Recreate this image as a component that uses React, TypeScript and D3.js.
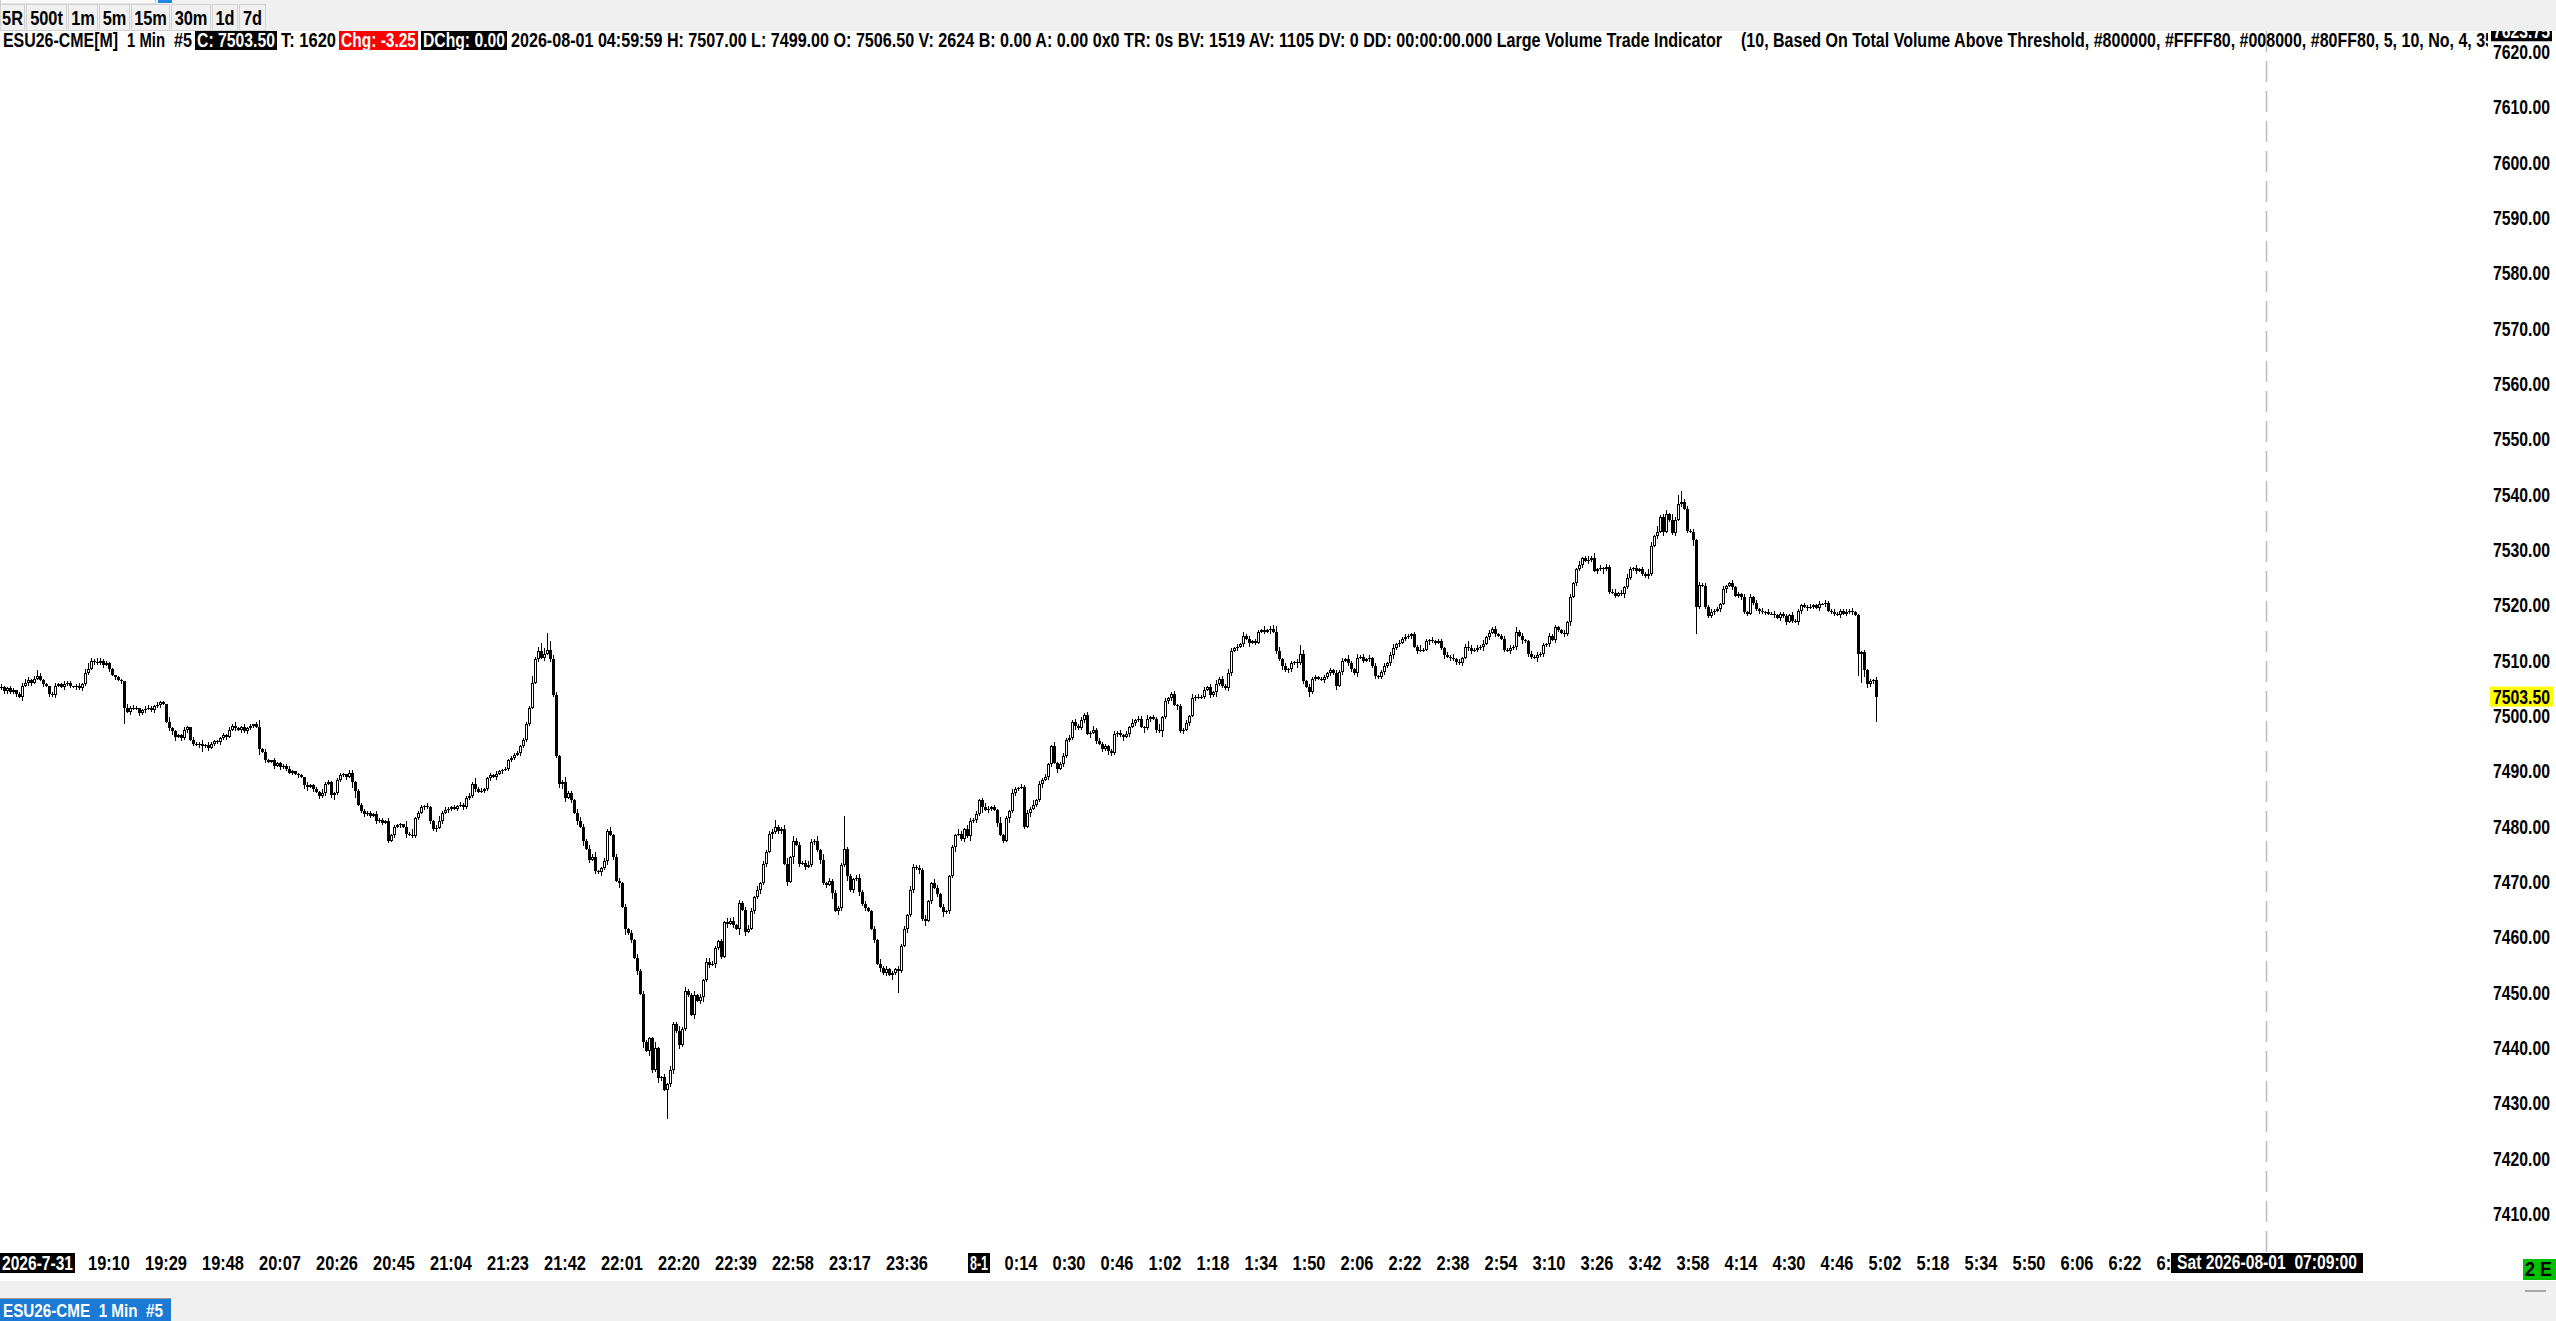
import React from "react";
import * as d3 from "d3";

const WIDTH = 2556;
const HEIGHT = 1321;
const FONT = "'Liberation Sans Narrow', 'Arial Narrow', 'Liberation Sans', Arial, sans-serif";

// 1 min bars, minutes counted from 2026-08-01 00:00 (first visible bar = 18:34 on 7-31)
const FIRST_BAR_MIN = -326;
const CURSOR_MIN = 429; // 07:09 cursor line
const TICK = 0.25;
const FIRST_OPEN = 7505.0;
const LAST_PRICE = 7503.5;
const TOP_PRICE_LABEL = 7623.75;

const CLOSES: number[] = [
  7505.25, 7504.5, 7505, 7504.25, 7504.75, 7504, 7503.5, 7505.5, 7506, 7506.5,
  7506, 7506.75, 7507.25, 7506.5, 7505.75, 7505.5, 7504, 7503.75, 7505.5, 7505.75,
  7505.25, 7505.75, 7506, 7505.5, 7505.25, 7505.5, 7505, 7505.75, 7507.75, 7508.5,
  7510, 7509.75, 7509.5, 7510, 7509.25, 7509.5, 7508.5, 7507.5, 7507, 7506.5,
  7506.25, 7501.5, 7500.75, 7501.5, 7501.25, 7501.5, 7500.5, 7501, 7501.25, 7501.5,
  7501, 7501.75, 7502, 7502.5, 7502.25, 7499, 7497.75, 7497.25, 7496.25, 7496.5,
  7496, 7497.5, 7498, 7495.75, 7495, 7494.75, 7495, 7494.5, 7494.75, 7494.25,
  7495, 7495.5, 7495.25, 7496, 7496.5, 7496.25, 7497.5, 7498.25, 7497.75, 7497.5,
  7498, 7497.25, 7497.75, 7498.25, 7498.5, 7498, 7494, 7493.5, 7492, 7491.75,
  7492, 7491, 7491.5, 7490.75, 7491, 7490.5, 7489.75, 7490, 7489.5, 7489.25,
  7489, 7487.5, 7487.25, 7487.5, 7486.75, 7486.25, 7485.5, 7486, 7487.75, 7488,
  7485.75, 7486, 7488.5, 7489.25, 7489.5, 7489, 7489.75, 7488, 7486.5, 7484,
  7482.75, 7482.25, 7482.5, 7482, 7482.25, 7481, 7481.25, 7480.75, 7481, 7477.5,
  7478.5, 7480, 7480.25, 7480.5, 7480, 7478.75, 7478.5, 7478.25, 7481.5, 7482.5,
  7483.5, 7483.75, 7483.5, 7481, 7479.5, 7479.75, 7481, 7482.5, 7483, 7483.25,
  7483.5, 7483.25, 7483.75, 7484, 7483.5, 7485.25, 7485.5, 7487.75, 7486.75, 7486.25,
  7486.5, 7486.75, 7488.75, 7489.25, 7489, 7489.5, 7490, 7490.25, 7490.5, 7492,
  7492.5, 7493, 7493.25, 7494.5, 7495.75, 7498.5, 7501.5, 7506, 7510.25, 7511.75,
  7510.5, 7511.25, 7512, 7510.25, 7503.75, 7492.75, 7487.75, 7488, 7485.25, 7486,
  7484.75, 7482.5, 7481, 7480, 7477.5, 7476, 7474, 7474.5, 7472, 7471.75,
  7472.5, 7473.75, 7479.25, 7478.5, 7474.5, 7470.25, 7469.75, 7465.5, 7461.5, 7460.75,
  7459.5, 7456.25, 7454, 7449.75, 7441, 7439.5, 7441.75, 7436, 7440, 7434.5,
  7434.75, 7432.5, 7433.5, 7436, 7444.25, 7443, 7440.5, 7443.5, 7450.25, 7449.5,
  7446, 7449.5, 7448.5, 7449.25, 7452.25, 7455.5, 7455, 7455.25, 7458, 7459.25,
  7456.5, 7462.75, 7462.5, 7463, 7462.25, 7461.5, 7466.25, 7465, 7461, 7461.5,
  7464.75, 7467.25, 7468.5, 7469.75, 7473.25, 7475.5, 7478.75, 7479, 7480, 7479.25,
  7479.5, 7473.25, 7470, 7474.5, 7477.5, 7476.75, 7473.25, 7473.5, 7472.75, 7473,
  7477.25, 7477.5, 7475.75, 7474, 7469.75, 7469.5, 7470.25, 7468, 7464.75, 7465.25,
  7473, 7476, 7471, 7468.5, 7470.5, 7470.75, 7468.25, 7466, 7465.25, 7464.75,
  7461.5, 7459.5, 7455.25, 7454.5, 7453.5, 7454.25, 7453.25, 7453.5, 7454.25, 7454,
  7458.5, 7461.5, 7464, 7468.5, 7472.75, 7472.5, 7472.25, 7463.25, 7463, 7466.5,
  7469.75, 7469, 7467.75, 7465.5, 7464.5, 7464.75, 7471, 7476.25, 7478.5, 7478.75,
  7477.75, 7479.5, 7478.25, 7481, 7481.25, 7482.25, 7484.75, 7483.5, 7483, 7483.25,
  7483.5, 7483, 7480.75, 7478.5, 7477.5, 7481.5, 7482.75, 7486, 7486.75, 7487,
  7487.25, 7480, 7482.5, 7483.25, 7484, 7484.75, 7487.75, 7488.5, 7489, 7491.25,
  7494.5, 7491.5, 7490.5, 7491.25, 7492.75, 7495.75, 7496, 7499, 7498.25, 7497.75,
  7499.25, 7500.25, 7496.75, 7497, 7497.5, 7495.5, 7495, 7494, 7494.5, 7493.75,
  7493.25, 7496.75, 7497, 7496.5, 7496.25, 7496.75, 7498, 7498.75, 7499.25, 7499.5,
  7498, 7497.75, 7499.5, 7499.75, 7499.5, 7497.5, 7497.25, 7499.75, 7502.75, 7503.25,
  7504, 7502, 7501.75, 7497.25, 7497.5, 7498.75, 7500, 7503.25, 7503.5, 7503.25,
  7503.5, 7504.75, 7505.25, 7503.75, 7504.25, 7505.75, 7506.75, 7505.5, 7505, 7507.75,
  7511.75, 7512.25, 7512.5, 7513, 7514.5, 7514, 7513.25, 7513.5, 7513.25, 7515.25,
  7515.5, 7515.25, 7515.5, 7515.75, 7515.25, 7511.75, 7510.25, 7509, 7508.25, 7508.5,
  7509.5, 7509.75, 7509.5, 7511.25, 7506.25, 7505.25, 7504.25, 7506.75, 7507, 7506.75,
  7506.5, 7507, 7507.75, 7508.25, 7507.75, 7505.5, 7508, 7510, 7510.25, 7509.5,
  7508.5, 7507.75, 7510.5, 7510.75, 7510, 7510.25, 7510.5, 7509, 7507.25, 7507,
  7508, 7509, 7509.5, 7511, 7512.25, 7513, 7513.25, 7514, 7514.25, 7514.5,
  7514.75, 7512.5, 7511.75, 7512, 7512, 7513.5, 7513.75, 7513.5, 7513.25, 7513.5,
  7512.25, 7511, 7510.75, 7510.5, 7510.25, 7509.75, 7509.5, 7510.5, 7512.5, 7512.25,
  7511.75, 7512, 7512.25, 7512.5, 7513, 7514.25, 7515, 7515.75, 7514.75, 7514.5,
  7514, 7512, 7511.75, 7512.25, 7512.5, 7515.25, 7514.5, 7513.75, 7513.5, 7511.25,
  7510.75, 7510.5, 7511, 7511.25, 7512.75, 7513, 7514.5, 7513.75, 7516, 7515.5,
  7515, 7514.75, 7517, 7521.5, 7524, 7526.5, 7527.25, 7528.5, 7528, 7528.25,
  7528.5, 7526.25, 7526.5, 7526.75, 7526.5, 7527, 7522.5, 7522.25, 7521.75, 7522.25,
  7522, 7523.25, 7525, 7526.5, 7526.75, 7526.25, 7526.5, 7525.75, 7525.25, 7525.75,
  7530.75, 7532.5, 7533.25, 7536, 7533.25, 7536.5, 7535.5, 7533, 7535.5, 7538.25,
  7538.75, 7537.5, 7533.5, 7533.25, 7531.75, 7519.75, 7523.75, 7523.5, 7519.75, 7518,
  7518.75, 7519, 7519.25, 7520.25, 7523, 7523.5, 7524, 7523.25, 7521.75, 7522,
  7521.5, 7518.75, 7518.5, 7521.5, 7520.5, 7519.25, 7519, 7518.75, 7518.75, 7518.5,
  7518.5, 7518.25, 7517.75, 7518.5, 7518, 7517, 7518.25, 7517.25, 7517, 7519,
  7520, 7519.75, 7519.5, 7519.75, 7520, 7519.5, 7520.25, 7520.25, 7520.5, 7519,
  7518.75, 7518.5, 7518.25, 7519, 7518.5, 7518.75, 7519, 7518.75, 7518.25, 7511.25,
  7511.5, 7508.25, 7505.75, 7506.25, 7506.5, 7503.5,
];

// wick lengths in ticks (base 36 digit per bar), 10 bars per chunk
const WICK_UP = [
  "2112101232", "1242110121", "1211012134", "2132121101", "1031210122", "1121103111", "1210211312", "1111212131",
  "1211025121", "0211112101", "1021121312", "1112102211", "1211121112", "1111041411", "2121124121", "1212112142",
  "2112121111", "1121121523", "64c6321242", "2133213241", "1213122121", "2131221141", "1213224132", "2312133221",
  "2132312123", "2131212251", "2341322123", "2131412122", "2o12123121", "1213121212", "1213212131", "1321211213",
  "2132121232", "1214121321", "2121312121", "1312212121", "2121312121", "1212121312", "2131214121", "1212121312",
  "1212131213", "2121312121", "1312343121", "2126312121", "1212121213", "2131212121", "1212312121", "1213121212",
  "2121312124", "2121312121", "1212131211", "2121212121", "1212113123", "2412121231", "2132121213", "3141231427",
  "8221212121", "2121211212", "1212121212", "1211121211", "1212112121", "1211121211", "121212",
];
const WICK_DN = [
  "1221121312", "2111212121", "1212121211", "1211212121", "2c12112121", "1212112331", "2121212412", "1212121121",
  "2121214121", "1212121212", "1331212121", "2412121451", "1212121212", "1212131111", "1212121212", "2121212121",
  "1212121212", "1212121112", "1212113431", "2131412121", "3131213141", "2131414213", "21l2313121", "1312412131",
  "2131214131", "1213121412", "2131512121", "1213121413", "2131213121", "121312141g", "2131213141", "2121312131",
  "1213121412", "2131213121", "1213121312", "2131212131", "1213121213", "2121312121", "1312121412", "2131212121",
  "1212131212", "2121213121", "1213121312", "2131213121", "1212131212", "2131212121", "1212312121", "2121213121",
  "1312121212", "2121312121", "1212121312", "2131212121", "1213121212", "2121312121", "1312121212", "2121312121",
  "21214k2121", "1212131212", "2121212121", "1212121212", "2121212121", "121212121g", "l5322i",
];

const EVENING_LABELS = ["19:10", "19:29", "19:48", "20:07", "20:26", "20:45", "21:04", "21:23", "21:42", "22:01", "22:20", "22:39", "22:58", "23:17", "23:36"];
const MORNING_LABELS = ["0:14", "0:30", "0:46", "1:02", "1:18", "1:34", "1:50", "2:06", "2:22", "2:38", "2:54", "3:10", "3:26", "3:42", "3:58", "4:14", "4:30", "4:46", "5:02", "5:18", "5:34", "5:50", "6:06", "6:22", "6:38"];

const TOOLBAR = ["5R", "500t", "1m", "5m", "15m", "30m", "1d", "7d"];
const TOOLBAR_W = [25, 41, 30, 31, 39, 40, 26, 27];

const HEADER = [
  { text: "ESU26-CME[M]", x: 3, w: 115 },
  { text: "1 Min", x: 127, w: 38 },
  { text: "#5", x: 174, w: 18 },
  { text: "C: 7503.50", x: 197, w: 78, box: "#000000", color: "#ffffff" },
  { text: "T: 1620", x: 281, w: 55 },
  { text: "Chg: -3.25", x: 341, w: 75, box: "#ff0000", color: "#ffffff" },
  { text: "DChg: 0.00", x: 423, w: 82, box: "#000000", color: "#ffffff" },
  { text: "2026-08-01 04:59:59 H: 7507.00 L: 7499.00 O: 7506.50 V: 2624 B: 0.00 A: 0.00 0x0 TR: 0s BV: 1519 AV: 1105 DV: 0 DD: 00:00:00.000 Large Volume Trade Indicator", x: 511, w: 1211 },
  { text: "(10, Based On Total Volume Above Threshold, #800000, #FFFF80, #008000, #80FF80, 5, 10, No, 4, 35", x: 1741, w: 753 },
];

// approximate Arial Bold advance widths (em), narrowed
const CW: Record<string, number> = { ":": 0.333, ".": 0.278, "-": 0.333, " ": 0.278, S: 0.667, a: 0.556, t: 0.333, E: 0.667, R: 0.722, m: 0.889, d: 0.611 };
function textW(s: string, size: number) {
  let w = 0;
  for (const ch of s) w += CW[ch] ?? 0.556;
  return w * size * 0.82;
}

function toMinutes(label: string, evening: boolean) {
  const [h, m] = label.split(":").map(Number);
  return h * 60 + m - (evening ? 1440 : 0);
}

export default function App() {
  const x = d3.scaleLinear().domain([FIRST_BAR_MIN, CURSOR_MIN]).range([1, 2266]);
  const y = d3.scaleLinear().domain([7410, 7620]).range([1214, 52]);

  const up = WICK_UP.join("");
  const dn = WICK_DN.join("");
  const bars = CLOSES.map((c, i) => {
    const o = i === 0 ? FIRST_OPEN : CLOSES[i - 1];
    const hi = Math.max(o, c) + parseInt(up[i], 36) * TICK;
    const lo = Math.min(o, c) - parseInt(dn[i], 36) * TICK;
    return { m: FIRST_BAR_MIN + i, o, h: hi, l: lo, c };
  });

  const timeLabels = [
    ...EVENING_LABELS.map((s) => ({ s, m: toMinutes(s, true) })),
    ...MORNING_LABELS.map((s) => ({ s, m: toMinutes(s, false) })),
  ];
  const priceTicks = y.ticks(20);
  const cursorX = Math.round(x(CURSOR_MIN));
  const midnightX = Math.round(x(0));
  const axisRight = 2550;

  const axisBaseline = 1270;
  let bx = 0;
  const buttons = TOOLBAR.map((t, i) => {
    const b = { t, x: bx, w: TOOLBAR_W[i] };
    bx += TOOLBAR_W[i] + 1;
    return b;
  });

  return (
    <svg
      width={WIDTH}
      height={HEIGHT}
      style={{ position: "fixed", left: 0, top: 0, display: "block" }}
      fontFamily={FONT}
      fontWeight="bold"
    >
      <defs>
        <clipPath id="hdrclip">
          <rect x={0} y={0} width={2488} height={60} />
        </clipPath>
      </defs>
      <rect x={0} y={0} width={WIDTH} height={HEIGHT} fill="#ffffff" />

      {/* candles */}
      <g shapeRendering="crispEdges">
        {bars.map((b, i) => {
          const cx = Math.round(x(b.m));
          const top = Math.round(y(Math.max(b.o, b.c)));
          const bot = Math.round(y(Math.min(b.o, b.c)));
          const isUp = b.c > b.o;
          return (
            <g key={i}>
              <line x1={cx + 0.5} x2={cx + 0.5} y1={y(b.h)} y2={y(b.l)} stroke="#000" strokeWidth={1} />
              {b.c === b.o ? (
                <rect x={cx - 1} y={top} width={3} height={1} fill="#000" />
              ) : isUp ? (
                <rect x={cx - 0.5} y={top + 0.5} width={2} height={Math.max(bot - top - 1, 0.01)} fill="#fff" stroke="#000" strokeWidth={1} />
              ) : (
                <rect x={cx - 1} y={top} width={3} height={Math.max(bot - top, 1)} fill="#000" />
              )}
            </g>
          );
        })}
      </g>

      {/* cursor line */}
      <line x1={cursorX + 0.5} x2={cursorX + 0.5} y1={31} y2={1253} stroke="#bdbdbd" strokeWidth={1.5} strokeDasharray="21 9" />

      {/* price axis */}
      {priceTicks.map((v) => {
        const s = v.toFixed(2);
        return (
          <text key={v} x={axisRight} y={y(v) + 7} fontSize={20} textAnchor="end" fill="#000" textLength={57} lengthAdjust="spacingAndGlyphs">
            {s}
          </text>
        );
      })}
      <rect x={2490} y={y(LAST_PRICE) - 10} width={63} height={20} fill="#ffff00" />
      <text x={axisRight} y={y(LAST_PRICE) + 7} fontSize={20} textAnchor="end" fill="#000" textLength={57} lengthAdjust="spacingAndGlyphs">
        {LAST_PRICE.toFixed(2)}
      </text>
      <rect x={2491} y={y(TOP_PRICE_LABEL) - 10} width={61} height={20} fill="#000" />
      <text x={axisRight} y={y(TOP_PRICE_LABEL) + 7} fontSize={20} textAnchor="end" fill="#fff" textLength={57} lengthAdjust="spacingAndGlyphs">
        {TOP_PRICE_LABEL.toFixed(2)}
      </text>

      {/* time axis */}
      {timeLabels.map((d) => {
        const w = textW(d.s, 20);
        return (
          <text key={d.s} x={x(d.m)} y={axisBaseline} fontSize={20} textAnchor="middle" fill="#000" textLength={w} lengthAdjust="spacingAndGlyphs">
            {d.s}
          </text>
        );
      })}
      <rect x={0} y={1253} width={75} height={20} fill="#000" />
      <text x={2} y={axisBaseline} fontSize={20} fill="#fff" textLength={71} lengthAdjust="spacingAndGlyphs">2026-7-31</text>
      <rect x={midnightX - 11} y={1253} width={22} height={20} fill="#000" />
      <text x={midnightX} y={axisBaseline} fontSize={20} fill="#fff" textAnchor="middle" textLength={18} lengthAdjust="spacingAndGlyphs">8-1</text>
      <rect x={cursorX - 95} y={1253} width={192} height={20} fill="#000" />
      <text x={cursorX + 1} y={axisBaseline - 1} fontSize={20} fill="#fff" textAnchor="middle" textLength={180} lengthAdjust="spacingAndGlyphs" xmlSpace="preserve">
        Sat 2026-08-01  07:09:00
      </text>

      {/* bottom status */}
      <rect x={0} y={1281} width={WIDTH} height={40} fill="#f0f0f0" />
      <rect x={0} y={1298} width={171} height={23} fill="#1a7ad4" />
      <line x1={0} x2={171} y1={1298.5} y2={1298.5} stroke="#9a9a9a" />
      <text x={3} y={1317} fontSize={19} fill="#fff" textLength={160} lengthAdjust="spacingAndGlyphs" xmlSpace="preserve">
        ESU26-CME  1 Min  #5
      </text>
      <rect x={2523} y={1259} width={33} height={21} fill="#00c000" />
      <text x={2525} y={1276} fontSize={20} fill="#000" textLength={27} lengthAdjust="spacingAndGlyphs">2 E</text>
      <line x1={2525} x2={2546} y1={1291} y2={1291} stroke="#a8a8a8" strokeWidth={2} />

      {/* toolbar */}
      <rect x={0} y={0} width={WIDTH} height={31} fill="#f0f0f0" />
      <rect x={0.5} y={-1} width={155} height={5} fill="#fafafa" stroke="#c8c8c8" />
      <rect x={158} y={0} width={14} height={3} fill="#1e88e5" />
      {buttons.map((b) => (
        <g key={b.t}>
          <rect x={b.x + 0.5} y={4.5} width={b.w - 1} height={26} fill="#f0f0f0" stroke="#d2d2d2" />
          <text x={b.x + b.w / 2} y={25} fontSize={21} textAnchor="middle" fill="#000" textLength={textW(b.t, 21) * 0.95} lengthAdjust="spacingAndGlyphs">
            {b.t}
          </text>
        </g>
      ))}

      {/* header line */}
      <g clipPath="url(#hdrclip)">
        {HEADER.map((h) => (
          <g key={h.x}>
            {h.box && <rect x={h.x - 2} y={31} width={h.w + 4} height={19} fill={h.box} />}
            <text x={h.x} y={47} fontSize={20} fill={h.color ?? "#000"} textLength={h.w} lengthAdjust="spacingAndGlyphs" xmlSpace="preserve">
              {h.text}
            </text>
          </g>
        ))}
      </g>
    </svg>
  );
}
